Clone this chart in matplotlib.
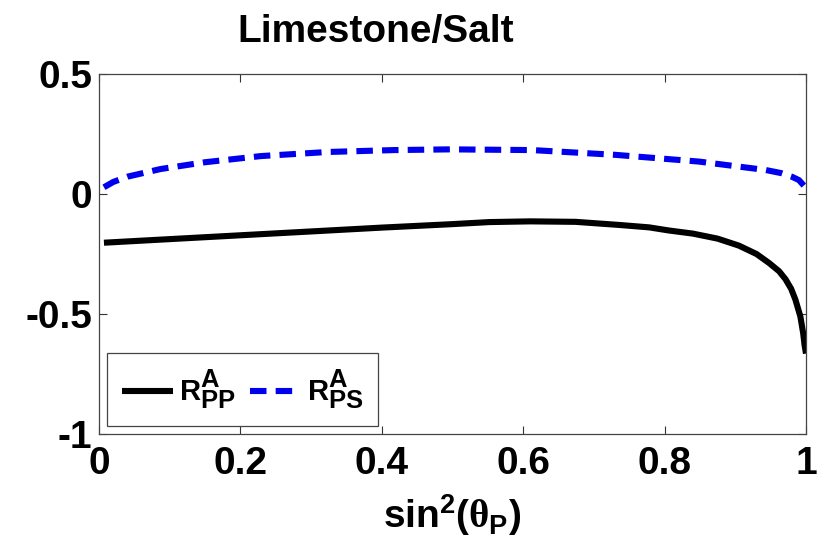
import matplotlib
matplotlib.use("Agg")
import matplotlib.pyplot as plt
import matplotlib._mathtext as mt

plt.rcParams["font.family"] = ["Liberation Sans", "DejaVu Sans"]
plt.rcParams["font.weight"] = "bold"
plt.rcParams["mathtext.fontset"] = "custom"
plt.rcParams["mathtext.rm"] = "Liberation Sans:bold"
plt.rcParams["mathtext.bf"] = "Liberation Sans:bold"
plt.rcParams["mathtext.it"] = "Liberation Serif"
plt.rcParams["mathtext.default"] = "rm"

# values
x_pp = [0.007, 0.1, 0.2, 0.3, 0.4, 0.497, 0.552, 0.61, 0.674, 0.736, 0.778,
        0.806, 0.84, 0.875, 0.905, 0.93, 0.948, 0.962, 0.971, 0.979, 0.985,
        0.992, 0.996, 0.998, 1.0]
r_pp = [-0.203, -0.188, -0.172, -0.156, -0.14, -0.126, -0.117, -0.114,
        -0.116, -0.129, -0.139, -0.152, -0.165, -0.186, -0.215, -0.25,
        -0.288, -0.322, -0.355, -0.395, -0.44, -0.51, -0.58, -0.63, -0.665]

x_ps = [0.007, 0.02, 0.04, 0.087, 0.149, 0.229, 0.323, 0.417, 0.497, 0.613,
        0.731, 0.849, 0.943, 0.965, 0.98, 0.99, 0.997]
r_ps = [0.028, 0.05, 0.072, 0.104, 0.132, 0.158, 0.175, 0.183, 0.186, 0.183,
        0.163, 0.135, 0.1, 0.087, 0.072, 0.058, 0.035]

xticks = [0, 0.2, 0.4, 0.6, 0.8, 1]
xticklabels = ["0", "0.2", "0.4", "0.6", "0.8", "1"]
yticks = [-1, -0.5, 0, 0.5]
yticklabels = ["-1", "-0.5", "0", "0.5"]

fig = plt.figure(figsize=(8.36, 5.48), dpi=100, facecolor="white")
ax = fig.add_axes([99 / 836, 1 - 434 / 548, 707 / 836, 360 / 548])

ax.plot(x_pp, r_pp, color="black", lw=4.4, solid_capstyle="butt",
        label=r"$R^{A}_{PP}$")
ax.plot(x_ps, r_ps, color="#0000ee", lw=4.4, dashes=(2.7, 1.5),
        dash_capstyle="butt", label=r"$R^{A}_{PS}$")

ax.set_xlim(0, 1)
ax.set_ylim(-1, 0.5)
ax.set_xticks(xticks)
ax.set_xticklabels(xticklabels)
ax.set_yticks(yticks)
ax.set_yticklabels(yticklabels)
ax.tick_params(direction="in", top=True, right=True, length=6, width=0.8,
               color="#333333", labelsize=28, pad=5)
ax.tick_params(axis="x", pad=9)
for s in ax.spines.values():
    s.set_color("#444444")
    s.set_linewidth(0.9)

leg = ax.legend(loc="lower left", bbox_to_anchor=(0.012, 0.022),
                borderaxespad=0, ncol=2, fontsize=21, handlelength=1.75,
                handletextpad=0.2, columnspacing=0.5, fancybox=False,
                framealpha=1, borderpad=0.5)
leg.get_frame().set_edgecolor("#444444")
leg.get_frame().set_linewidth(0.9)

fig.text(376 / 836, 1 - 42 / 548, "Limestone/Salt", ha="center",
         va="baseline", fontsize=28, fontweight="bold")

# legend scripts are nearly full size in the original: lay them out first
old_shrink = mt.SHRINK_FACTOR
mt.SHRINK_FACTOR = 0.88
fig.canvas.draw()
mt.SHRINK_FACTOR = old_shrink

fig.text(452 / 836, 1 - 528 / 548,
         r"$\mathrm{sin}^{2}(\mathit{\theta}_{\mathrm{P}})$",
         ha="center", va="baseline", fontsize=28)

fig.savefig("out.png", dpi=100, facecolor="white")
